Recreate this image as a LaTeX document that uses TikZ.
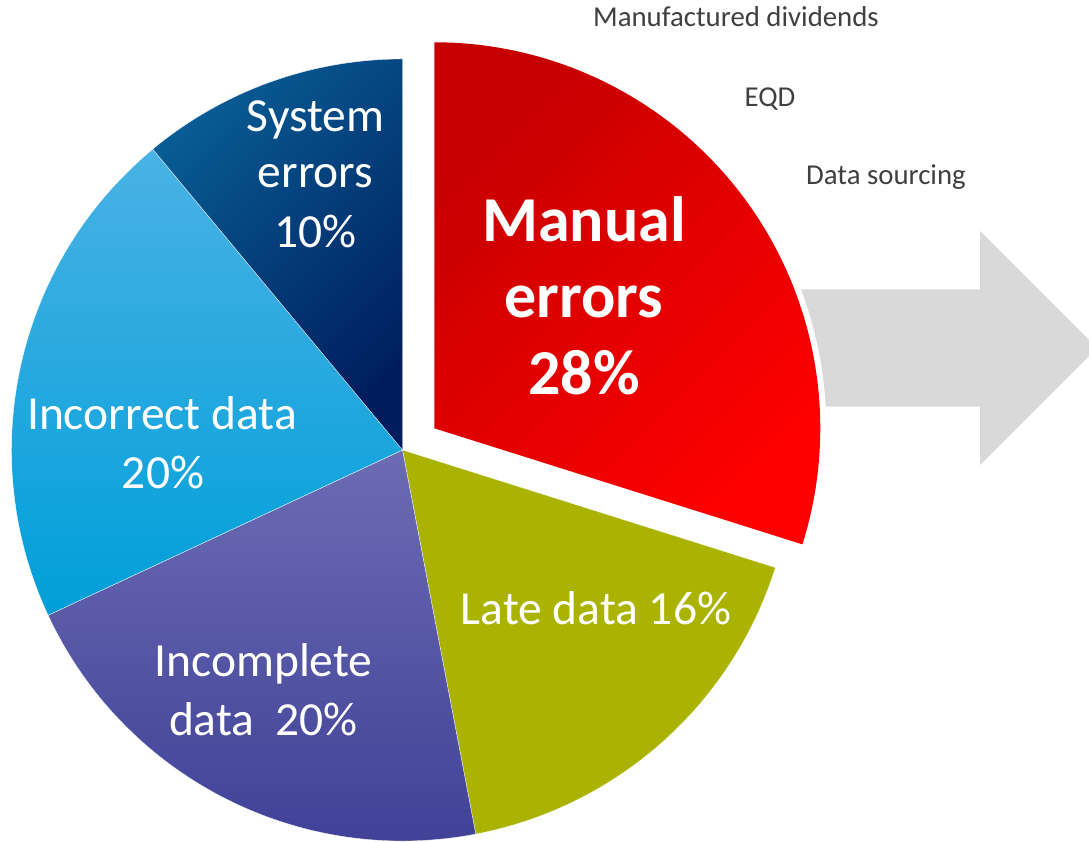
\documentclass[tikz,border=0pt]{standalone}
\usepackage{fontspec}
\setmainfont{Carlito}
\definecolor{manualA}{RGB}{198,0,0}
\definecolor{manualB}{RGB}{255,0,0}
\definecolor{systemA}{RGB}{8,92,148}
\definecolor{systemB}{RGB}{0,30,94}
\definecolor{incorrA}{RGB}{74,178,229}
\definecolor{incorrB}{RGB}{0,159,217}
\definecolor{incompA}{RGB}{108,108,180}
\definecolor{incompB}{RGB}{62,62,150}
\definecolor{lateC}{RGB}{170,180,0}
\definecolor{arrowC}{RGB}{217,217,217}
\definecolor{noteC}{RGB}{64,64,64}
\tikzset{
  pielabel/.style={text=white, anchor=base, inner sep=0pt, font=\fontsize{47.5pt}{57pt}\selectfont},
  biglabel/.style={text=white, anchor=base, inner sep=0pt, font=\bfseries\fontsize{64pt}{77pt}\selectfont},
  note/.style={text=noteC, anchor=base, inner sep=0pt, font=\fontsize{28.8pt}{34pt}\selectfont},
  slicesep/.style={draw=white, line width=0.3pt}
}
\begin{document}
\begin{tikzpicture}[x=1pt,y=1pt]
  \clip (0,0) rectangle (1089,842);
  \fill[white] (0,0) rectangle (1089,842);

  % pie centre and radius; exploded slice centre
  \coordinate (c) at (402.5,392);
  \coordinate (m) at (434.3,413.7);
  \def\R{391}
  \def\Rm{386}

  % grey block arrow behind the exploded slice
  \fill[arrowC] (780,552.7) -- (980,552.7) -- (980,611) -- (1097,494)
    -- (980,377) -- (980,435.3) -- (780,435.3) -- cycle;

  % exploded slice: white halo, then the slice
  \fill[white] (m) -- ++(90:392) arc[start angle=90, end angle=-17.5, radius=392] -- cycle;
  \shade[top color=manualA, bottom color=manualB, shading angle=45]
    (m) -- ++(90:\Rm) arc[start angle=90, end angle=-17.5, radius=\Rm] -- cycle;

  % remaining slices
  \fill[lateC, slicesep] (c) -- ++(-17.5:\R) arc[start angle=-17.5, end angle=-79.2, radius=\R] -- cycle;
  \shade[top color=incompA, bottom color=incompB, slicesep]
    (c) -- ++(-79.2:\R) arc[start angle=-79.2, end angle=-155, radius=\R] -- cycle;
  \shade[top color=incorrA, bottom color=incorrB, slicesep]
    (c) -- ++(-155:\R) arc[start angle=-155, end angle=-230.3, radius=\R] -- cycle;
  \shade[top color=systemA, bottom color=systemB, shading angle=45, slicesep]
    (c) -- ++(129.7:\R) arc[start angle=129.7, end angle=90, radius=\R] -- cycle;

  % slice labels
  \node[pielabel] (sys1) at (315.5,710) {System};
  \node[pielabel] (sys2) at (315.5,654) {errors};
  \node[pielabel] (sys3) at (315.5,594) {10\%};
  \node[pielabel] (inc1) at (162,412) {Incorrect data};
  \node[pielabel] (inc2) at (163,353) {20\%};
  \node[pielabel] (icp1) at (263.5,165.3) {Incomplete};
  \node[pielabel] (icp2) at (263.5,106) {data~~20\%};
  \node[pielabel] (late) at (596,217) {Late data 16\%};
  \node[biglabel] (man1) at (584,600.3) {Manual};
  \node[biglabel] (man2) at (584,524) {errors};
  \node[biglabel] (man3) at (584,447) {28\%};

  % notes beside the arrow
  \node[note] (n1) at (736,815.3) {Manufactured dividends};
  \node[note] (n2) at (770,735.3) {EQD};
  \node[note] (n3) at (886,657) {Data sourcing};
\end{tikzpicture}
\end{document}
